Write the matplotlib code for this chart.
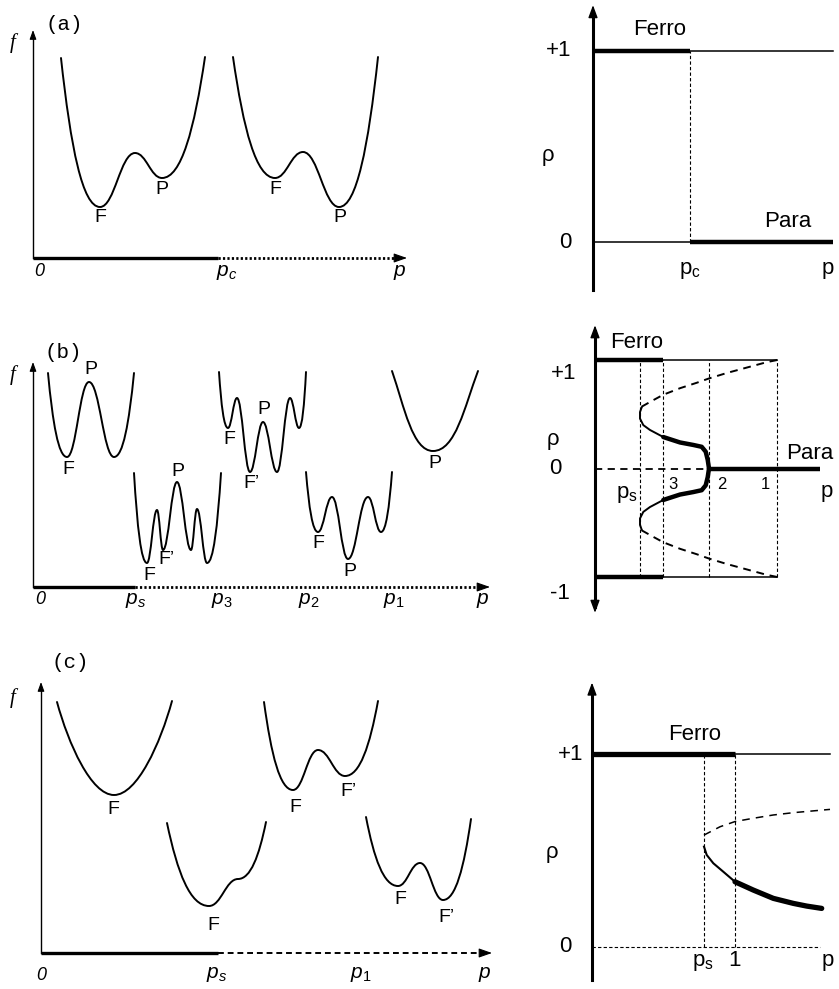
import matplotlib
matplotlib.use('Agg')
import matplotlib.pyplot as plt
from matplotlib.path import Path
from matplotlib.patches import PathPatch

plt.rcParams['font.family'] = ['Liberation Sans', 'DejaVu Sans']
plt.rcParams['mathtext.fontset'] = 'custom'
plt.rcParams['mathtext.rm'] = 'Liberation Sans'
plt.rcParams['mathtext.it'] = 'Liberation Sans:italic'

# ---------------- data: panel (a) left ----------------
a_p_end, a_pc, a_f_top = 3.74, 1.85, 2.28
a_wells_x = [[0.28, 0.67, 1.02, 1.29, 1.72], [2.00, 2.42, 2.70, 3.06, 3.45]]
a_wells_y = [[2.00, 0.51, 1.05, 0.80, 2.01], [2.01, 0.80, 1.06, 0.51, 2.01]]
a_labels = ['F', 'P', 'F', 'P']
a_labels_x = [0.67, 1.29, 2.42, 3.07]
a_labels_y = [0.41, 0.68, 0.68, 0.40]
a_ticks = ['0', '$p_c$', '$p$']
a_ticks_x = [0.06, 1.94, 3.67]

# ---------------- data: panel (b) left ----------------
b_p_end, b_ps, b_f_top = 4.57, 1.02, 2.25
b_wells_x = [[0.15, 0.34, 0.56, 0.81, 1.01],
             [1.01, 1.14, 1.24, 1.30, 1.44, 1.58, 1.64, 1.74, 1.88],
             [1.86, 1.95, 2.04, 2.17, 2.30, 2.44, 2.57, 2.66, 2.73],
             [2.73, 2.85, 2.99, 3.15, 3.35, 3.48, 3.59],
             [3.59, 4.00, 4.45]]
b_wells_y = [[2.14, 1.30, 2.05, 1.30, 2.14],
             [1.14, 0.24, 0.77, 0.37, 1.05, 0.37, 0.78, 0.24, 1.14],
             [2.15, 1.59, 1.89, 1.15, 1.65, 1.15, 1.89, 1.59, 2.15],
             [1.15, 0.55, 0.90, 0.28, 0.90, 0.55, 1.15],
             [2.16, 1.36, 2.16]]
b_labels = ['P', 'F', 'F', 'F’', 'P', 'F', 'F’', 'P', 'F', 'P', 'P']
b_labels_x = [0.58, 0.35, 1.16, 1.33, 1.45, 1.96, 2.18, 2.31, 2.85, 3.17, 4.02]
b_labels_y = [2.17, 1.17, 0.12, 0.27, 1.15, 1.47, 1.04, 1.77, 0.44, 0.15, 1.24]
b_ticks = ['0', '$p_s$', '$p_3$', '$p_2$', '$p_1$', '$p$']
b_ticks_x = [0.07, 1.03, 1.89, 2.76, 3.61, 4.50]

# ---------------- data: panel (c) left ----------------
c_p_end, c_ps, c_f_top = 4.51, 1.77, 2.71
c_wells_x = [[0.16, 0.73, 1.31], [1.26, 1.68, 1.97, 2.25],
             [2.23, 2.52, 2.77, 3.04, 3.37], [3.25, 3.57, 3.79, 4.02, 4.30]]
c_wells_y = [[2.51, 1.58, 2.52], [1.30, 0.47, 0.74, 1.31],
             [2.51, 1.63, 2.03, 1.77, 2.52], [1.36, 0.67, 0.90, 0.53, 1.34]]
c_labels = ['F', 'F', 'F', 'F’', 'F', 'F’']
c_labels_x = [0.72, 1.72, 2.54, 3.07, 3.59, 4.05]
c_labels_y = [1.43, 0.28, 1.45, 1.61, 0.53, 0.36]
c_ticks = ['0', '$p_s$', '$p_1$', '$p$']
c_ticks_x = [0.0, 1.76, 3.20, 4.44]

# ---------------- data: panel (a) right ----------------
ra_pc, ra_end = 0.97, 2.40
ra_axis = [-0.25, 1.24]

# ---------------- data: panel (b) right ----------------
rb_ps, rb_p3, rb_p2, rb_p1, rb_end = 0.45, 0.68, 1.14, 1.82, 2.25
rb_axis = [-1.33, 1.32]
rb_unst_x = [0.467, 0.583, 0.683, 0.85, 1.017, 1.14, 1.317, 1.517, 1.717, 1.823]
rb_unst_y = [0.57, 0.63, 0.68, 0.74, 0.79, 0.83, 0.88, 0.93, 0.98, 1.0]
rb_stab_x = [0.467, 0.45, 0.45, 0.483, 0.55, 0.683, 0.85, 0.983, 1.067, 1.107, 1.127, 1.14]
rb_stab_y = [0.564, 0.52, 0.46, 0.40, 0.355, 0.29, 0.24, 0.217, 0.20, 0.155, 0.08, 0.0]

# ---------------- data: panel (c) right ----------------
rc_ps, rc_1, rc_end_top, rc_end_zero = 1.12, 1.43, 2.38, 2.28
rc_axis = [-0.17, 1.37]
rc_unst_x = [1.12, 1.28, 1.43, 1.613, 1.813, 2.013, 2.38]
rc_unst_y = [0.58, 0.623, 0.65, 0.667, 0.684, 0.696, 0.713]
rc_stab_x = [1.12, 1.147, 1.213, 1.313, 1.43, 1.613, 1.813, 2.013, 2.147, 2.297]
rc_stab_y = [0.52, 0.477, 0.434, 0.39, 0.338, 0.295, 0.252, 0.226, 0.212, 0.20]

# ================= drawing =================
W, H = 839, 989
fig = plt.figure(figsize=(W / 100, H / 100), dpi=100)
K = 'black'


def panel(region, origin, sx, sy):
    l, t, r, b = region
    ax = fig.add_axes([l / W, 1 - b / H, (r - l) / W, (b - t) / H])
    x0, y0 = origin
    ax.set_xlim((l - x0) / sx, (r - x0) / sx)
    ax.set_ylim((y0 - b) / sy, (y0 - t) / sy)
    ax.axis('off')
    ax.patch.set_alpha(0)
    return ax


def arrow(ax, start, tip, lw, hl, hw):
    ax.annotate('', xy=tip, xytext=start, annotation_clip=False,
                arrowprops=dict(arrowstyle=f'-|>,head_length={hl},head_width={hw}',
                                lw=lw, color=K, shrinkA=0, shrinkB=0))


def well(ax, xs, ys, k=0.42, tx=0.25, ty=0.6, bx=0.45):
    verts = [(xs[0], ys[0])]
    codes = [Path.MOVETO]
    n = len(xs)
    for i in range(n - 1):
        x1, y1, x2, y2 = xs[i], ys[i], xs[i + 1], ys[i + 1]
        dx, dy = x2 - x1, y2 - y1
        if i == 0:
            c1 = (x1 + tx * dx, y1 + ty * dy)
            c2 = (x2 - bx * dx, y2)
        elif i == n - 2:
            c1 = (x1 + bx * dx, y1)
            c2 = (x2 - tx * dx, y2 - ty * dy)
        else:
            c1 = (x1 + k * dx, y1)
            c2 = (x2 - k * dx, y2)
        verts += [c1, c2, (x2, y2)]
        codes += [Path.CURVE4] * 3
    ax.add_patch(PathPatch(Path(verts, codes), fill=False, lw=1.4, ec=K,
                           capstyle='round', joinstyle='round', clip_on=False))


def left_panel(ax, p_end, p_split, f_top, dash, wells_x, wells_y, labels, lx, ly,
               ticks, tx, ty, tag, tag_xy, f_xy, wparams=None):
    # f axis
    ax.plot([0, 0], [0, f_top - 0.05], color=K, lw=1.0, clip_on=False)
    arrow(ax, (0, f_top - 0.06), (0, f_top), 0.8, 0.55, 0.2)
    # p axis
    ax.plot([0, p_split], [0, 0], color=K, lw=2.4, solid_capstyle='butt', clip_on=False)
    ax.plot([p_split, p_end - 0.08], [0, 0], color=K, lw=dash[0], linestyle=dash[1],
            clip_on=False)
    arrow(ax, (p_end - 0.09, 0), (p_end, 0), 0.8, 0.8, 0.28)
    for i, (xs, ys) in enumerate(zip(wells_x, wells_y)):
        kw = wparams[i] if wparams else {}
        well(ax, xs, ys, **kw)
    for s, x, y in zip(labels, lx, ly):
        ax.text(x, y, s, fontsize=14, ha='center', va='center')
    for s, x in zip(ticks, tx):
        if s == '0':
            ax.text(x, ty, s, fontsize=13, ha='center', va='center', style='italic')
        else:
            ax.text(x, ty, s, fontsize=15, ha='center', va='center')
    ax.text(tag_xy[0], tag_xy[1], tag, fontsize=15, ha='center', va='center',
            family='Liberation Mono')
    ax.text(f_xy[0], f_xy[1], 'f', fontsize=15, ha='center', va='center',
            family='Liberation Serif', style='italic')


# ---- (a) left ----
axA = panel((0, 0, 420, 300), (33, 258), 100, 100)
left_panel(axA, a_p_end, a_pc, a_f_top, (2.0, (0, (0.8, 0.8))), a_wells_x, a_wells_y,
           a_labels, a_labels_x, a_labels_y, a_ticks, a_ticks_x, -0.14,
           '(a)', (0.31, 2.33), (-0.20, 2.15))

# ---- (b) left ----
axB = panel((0, 300, 520, 640), (33, 587), 100, 100)
bparams = [dict(), dict(k=0.4), dict(k=0.4), dict(), dict(tx=0.3, ty=0.45, bx=0.5)]
left_panel(axB, b_p_end, b_ps, b_f_top, (2.0, (0, (0.8, 0.8))), b_wells_x, b_wells_y,
           b_labels, b_labels_x, b_labels_y, b_ticks, b_ticks_x, -0.13,
           '(b)', (0.30, 2.35), (-0.20, 2.12), wparams=bparams)

# ---- (c) left ----
axC = panel((0, 640, 520, 989), (41, 953), 100, 100)
cparams = [dict(tx=0.2, ty=0.45, bx=0.4), dict(), dict(), dict()]
left_panel(axC, c_p_end, c_ps, c_f_top, (1.4, (0, (3, 2))), c_wells_x, c_wells_y,
           c_labels, c_labels_x, c_labels_y, c_ticks, c_ticks_x, -0.22,
           '(c)', (0.29, 2.91), (-0.28, 2.55), wparams=cparams)

FS = 16
THIN, THICK = 1.1, 3.2
DOT = (0, (3, 2))

# ---- (a) right ----
axRA = panel((520, 0, 839, 300), (593, 242), 100, 191)
axRA.plot([0, 0], [ra_axis[0], ra_axis[1] - 0.05], color=K, lw=2.2, clip_on=False)
arrow(axRA, (0, ra_axis[1] - 0.06), (0, ra_axis[1]), 1.0, 0.75, 0.28)
axRA.plot([0, ra_pc], [1, 1], color=K, lw=THICK, solid_capstyle='butt', clip_on=False)
axRA.plot([ra_pc, ra_end], [1, 1], color=K, lw=THIN, clip_on=False)
axRA.plot([0, ra_pc], [0, 0], color=K, lw=THIN, clip_on=False)
axRA.plot([ra_pc, ra_end], [0, 0], color=K, lw=THICK, solid_capstyle='butt', clip_on=False)
axRA.plot([ra_pc, ra_pc], [0, 1], color=K, lw=0.8, linestyle=DOT, clip_on=False)
axRA.text(-0.345, 1.0, '+1', fontsize=FS, ha='center', va='center')
axRA.text(-0.28, 0.0, '0', fontsize=FS, ha='center', va='center')
axRA.text(-0.45, 0.455, 'ρ', fontsize=FS, ha='center', va='center')
axRA.text(0.67, 1.11, 'Ferro', fontsize=FS, ha='center', va='center')
axRA.text(1.95, 0.105, 'Para', fontsize=FS, ha='center', va='center')
axRA.text(0.97, -0.15, r'$\mathrm{p_c}$', fontsize=FS, ha='center', va='center')
axRA.text(2.35, -0.14, 'p', fontsize=FS, ha='center', va='center')

# ---- (b) right ----
axRB = panel((520, 300, 839, 640), (595, 468.5), 100, 108.5)
axRB.plot([0, 0], [rb_axis[0] + 0.05, rb_axis[1] - 0.05], color=K, lw=2.2, clip_on=False)
arrow(axRB, (0, rb_axis[1] - 0.06), (0, rb_axis[1]), 1.0, 0.75, 0.28)
arrow(axRB, (0, rb_axis[0] + 0.06), (0, rb_axis[0]), 1.0, 0.75, 0.28)
for lev in (1, -1):
    axRB.plot([0, rb_p3], [lev, lev], color=K, lw=THICK, solid_capstyle='butt', clip_on=False)
    axRB.plot([rb_p3, rb_p1], [lev, lev], color=K, lw=THIN, clip_on=False)
for xv in (rb_ps, rb_p3, rb_p2, rb_p1):
    axRB.plot([xv, xv], [-1, 1], color=K, lw=0.8, linestyle=DOT, clip_on=False)
axRB.plot([0, rb_p2], [0, 0], color=K, lw=1.3, linestyle=(0, (4, 3)), clip_on=False)
axRB.plot([rb_p2, rb_end], [0, 0], color=K, lw=THICK, solid_capstyle='butt', clip_on=False)
for sgn in (1, -1):
    axRB.plot(rb_unst_x, [sgn * v for v in rb_unst_y], color=K, lw=1.4,
              linestyle=(0, (4, 3)), clip_on=False)
    axRB.plot(rb_stab_x[:6], [sgn * v for v in rb_stab_y[:6]], color=K, lw=1.4,
              clip_on=False, solid_joinstyle='round')
    axRB.plot(rb_stab_x[5:], [sgn * v for v in rb_stab_y[5:]], color=K, lw=THICK,
              clip_on=False, solid_joinstyle='round', solid_capstyle='round')
axRB.text(-0.315, 0.88, '+1', fontsize=FS, ha='center', va='center')
axRB.text(-0.35, -1.15, '-1', fontsize=FS, ha='center', va='center')
axRB.text(-0.40, 0.0, '0', fontsize=FS, ha='center', va='center')
axRB.text(-0.42, 0.27, 'ρ', fontsize=FS, ha='center', va='center')
axRB.text(0.42, 1.16, 'Ferro', fontsize=FS, ha='center', va='center')
axRB.text(2.15, 0.14, 'Para', fontsize=FS, ha='center', va='center')
axRB.text(2.32, -0.21, 'p', fontsize=FS, ha='center', va='center')
axRB.text(0.32, -0.24, r'$\mathrm{p_s}$', fontsize=FS, ha='center', va='center')
for s, xv in zip(['3', '2', '1'], [0.78, 1.27, 1.70]):
    axRB.text(xv, -0.15, s, fontsize=12, ha='center', va='center')

# ---- (c) right ----
axRC = panel((520, 640, 839, 989), (592, 947), 100, 193)
axRC.plot([0, 0], [rc_axis[0], rc_axis[1] - 0.05], color=K, lw=2.2, clip_on=False)
arrow(axRC, (0, rc_axis[1] - 0.06), (0, rc_axis[1]), 1.0, 0.75, 0.28)
axRC.plot([0, rc_1], [1, 1], color=K, lw=THICK + 0.6, solid_capstyle='butt', clip_on=False)
axRC.plot([rc_1, rc_end_top], [1, 1], color=K, lw=THIN, clip_on=False)
axRC.plot([0, rc_end_zero], [0, 0], color=K, lw=0.8, linestyle=DOT, clip_on=False)
for xv in (rc_ps, rc_1):
    axRC.plot([xv, xv], [0, 1], color=K, lw=0.8, linestyle=DOT, clip_on=False)
axRC.plot(rc_unst_x, rc_unst_y, color=K, lw=1.1, linestyle=(0, (5, 4)), clip_on=False)
axRC.plot(rc_stab_x[:5], rc_stab_y[:5], color=K, lw=1.5, clip_on=False)
axRC.plot(rc_stab_x[4:], rc_stab_y[4:], color=K, lw=THICK + 0.6, clip_on=False,
          solid_capstyle='round')
axRC.text(-0.21, 1.0, '+1', fontsize=FS, ha='center', va='center')
axRC.text(-0.27, 0.0, '0', fontsize=FS, ha='center', va='center')
axRC.text(-0.40, 0.49, 'ρ', fontsize=FS, ha='center', va='center')
axRC.text(1.03, 1.10, 'Ferro', fontsize=FS, ha='center', va='center')
axRC.text(1.11, -0.08, r'$\mathrm{p_s}$', fontsize=FS, ha='center', va='center')
axRC.text(1.43, -0.07, '1', fontsize=FS, ha='center', va='center')
axRC.text(2.36, -0.07, 'p', fontsize=FS, ha='center', va='center')

fig.savefig('out.png', dpi=100)
